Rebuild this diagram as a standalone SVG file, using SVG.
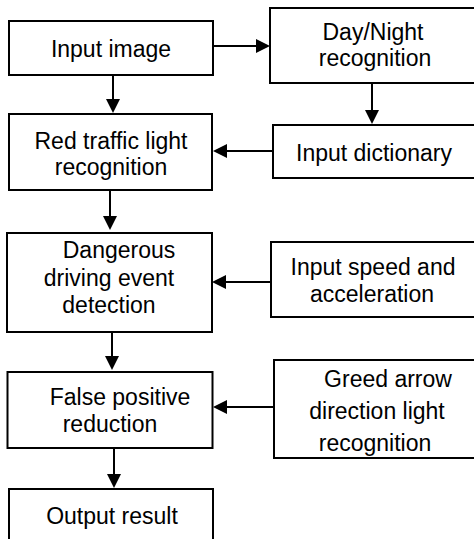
<svg xmlns="http://www.w3.org/2000/svg" width="474" height="539" viewBox="0 0 474 539">
<style>
.box{fill:#fff;stroke:#000;stroke-width:2}
.lbl{font-family:"Liberation Sans",Arial,sans-serif;font-size:23px;fill:#000;text-anchor:middle}
.edge{stroke:#000;stroke-width:2;fill:none;marker-end:url(#ah)}
</style>
<defs>
<marker id="ah" markerUnits="userSpaceOnUse" markerWidth="14" markerHeight="14" refX="12" refY="7" orient="auto">
<path d="M0,0 L14,7 L0,14 z" fill="#000"/>
</marker>
</defs>
<rect width="474" height="539" fill="#fff"/>
<g id="edges">
<line class="edge" x1="213" y1="46" x2="268" y2="46"/>
<line class="edge" x1="113" y1="75" x2="113" y2="111"/>
<line class="edge" x1="372" y1="83" x2="372" y2="122"/>
<line class="edge" x1="273" y1="151" x2="215" y2="151"/>
<line class="edge" x1="110" y1="190" x2="110" y2="228"/>
<line class="edge" x1="271" y1="282" x2="214" y2="282"/>
<line class="edge" x1="112" y1="332" x2="112" y2="368"/>
<line class="edge" x1="274" y1="407" x2="215" y2="407"/>
<line class="edge" x1="114" y1="448" x2="114" y2="486"/>
</g>
<g id="input-image">
<rect class="box" x="9" y="21" width="204" height="54"/>
<text class="lbl" x="111" y="57">Input image</text>
</g>
<g id="day-night">
<rect class="box" x="270" y="8" width="220" height="75"/>
<text class="lbl" x="373" y="40">Day/Night</text>
<text class="lbl" x="375" y="66">recognition</text>
</g>
<g id="red-light">
<rect class="box" x="9" y="114" width="203" height="76"/>
<text class="lbl" x="111" y="149">Red traffic light</text>
<text class="lbl" x="111" y="175">recognition</text>
</g>
<g id="input-dictionary">
<rect class="box" x="273" y="125" width="220" height="53"/>
<text class="lbl" x="374" y="161">Input dictionary</text>
</g>
<g id="dangerous">
<rect class="box" x="7" y="233" width="205" height="99"/>
<text class="lbl" x="119" y="258">Dangerous</text>
<text class="lbl" x="109" y="286">driving event</text>
<text class="lbl" x="109" y="313">detection</text>
</g>
<g id="speed">
<rect class="box" x="271" y="242" width="220" height="75"/>
<text class="lbl" x="373" y="275">Input speed and</text>
<text class="lbl" x="372" y="302">acceleration</text>
</g>
<g id="false-positive">
<rect class="box" x="7.5" y="372" width="205" height="76"/>
<text class="lbl" x="120" y="405">False positive</text>
<text class="lbl" x="110" y="432">reduction</text>
</g>
<g id="greed-arrow">
<rect class="box" x="274" y="360" width="220" height="98"/>
<text class="lbl" x="388" y="387">Greed arrow</text>
<text class="lbl" x="377" y="419">direction light</text>
<text class="lbl" x="375" y="451">recognition</text>
</g>
<g id="output">
<rect class="box" x="9" y="489" width="204" height="70"/>
<text class="lbl" x="112" y="524">Output result</text>
</g>
</svg>
